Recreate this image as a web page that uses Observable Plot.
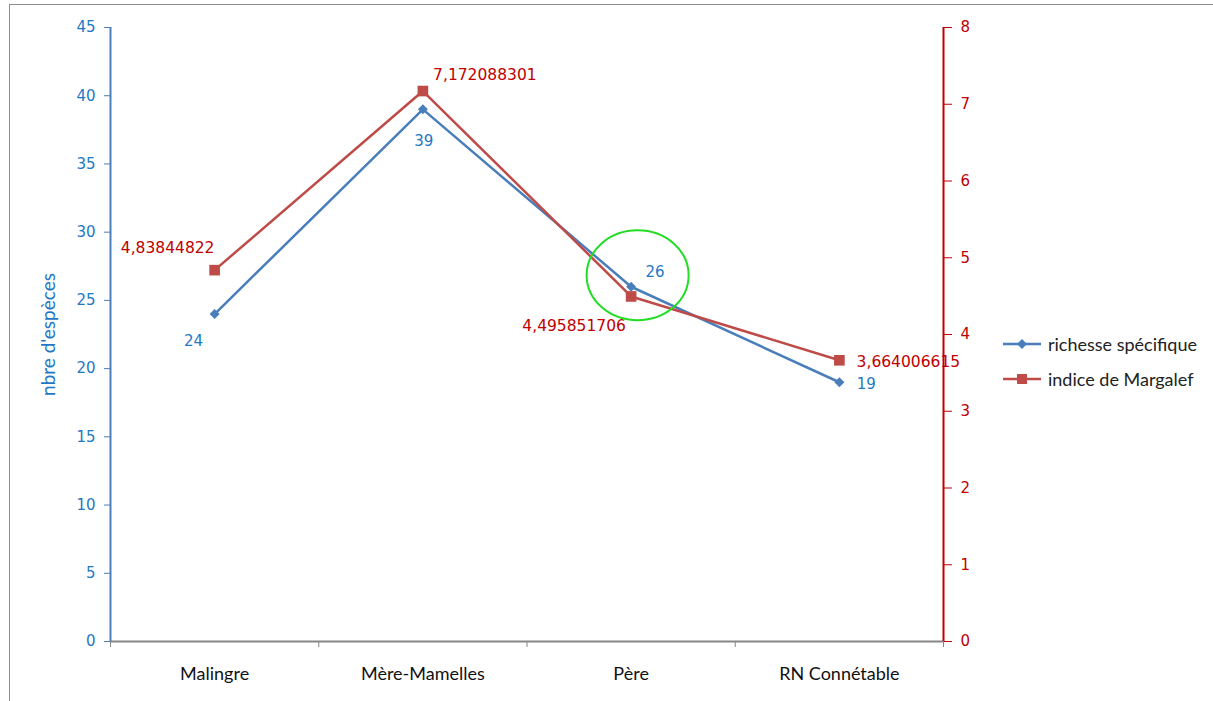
<!DOCTYPE html>
<html><head><meta charset="utf-8">
<script src="https://cdn.jsdelivr.net/npm/d3@7"></script>
<script src="https://cdn.jsdelivr.net/npm/@observablehq/plot@0.6"></script>
<style>
body{margin:0;background:#fff;}
#wrap{position:relative;width:1213px;height:701px;overflow:hidden;}
#frame{position:absolute;left:9px;top:4px;width:1260px;height:760px;border:1px solid #8c8c8c;box-sizing:border-box;pointer-events:none;}
#legend{position:absolute;left:1003px;top:326px;font-family:Lato,sans-serif;font-size:18px;color:#222;}
#legend .row{display:flex;align-items:center;height:35px;}
#legend svg{margin-right:6px;}
</style></head>
<body><div id="wrap"><div id="frame"></div><div id="chart"></div>
<div id="legend"></div></div>
<script>
const sites = ["Malingre", "Mère-Mamelles", "Père", "RN Connétable"];
const richesse = [24, 39, 26, 19];
const margalef = [4.83844822, 7.172088301, 4.495851706, 3.664006615];
const margalefLabels = ["4,83844822", "7,172088301", "4,495851706", "3,664006615"];
const leftTicks = [0, 5, 10, 15, 20, 25, 30, 35, 40, 45];
const rightTicks = [0, 1, 2, 3, 4, 5, 6, 7, 8];
const seriesNames = ["richesse spécifique", "indice de Margalef"];
const yTitle = "nbre d'espèces";

const BLUE = "#4A7EBB", RED = "#BE4B48", BLUE_T = "#1F78C4", RED_T = "#C00000";
const k = 45 / 8; // right axis → left axis
const rows = sites.map((s, i) => ({site: s, i, r: richesse[i], m: margalef[i], ms: margalef[i] * k, ml: margalefLabels[i]}));

const blueOff = [[-21, 27], [1, 32], [24, -15], [27, 2]];
const redOff = [[-47, -22], [62, -16], [-57, 30], [69, 2]];
const numFont = "DejaVu Sans, Verdana, sans-serif";

const ellipse = (index, scales) => {
  const p = rows[2];
  const cx = scales.x(p.i + 0.5) + 7, cy = scales.y(p.r) - 11;
  const e = d3.create("svg:ellipse").attr("cx", cx).attr("cy", cy).attr("rx", 51).attr("ry", 45)
    .attr("fill", "none").attr("stroke", "#22DD22").attr("stroke-width", 2);
  return e.node();
};

const chart = Plot.plot({
  width: 1213, height: 701,
  marginLeft: 110, marginRight: 270, marginTop: 27, marginBottom: 60,
  x: {domain: [0, 4]},
  y: {domain: [0, 45]},
  style: {fontFamily: numFont, background: "transparent", overflow: "visible"},
  marks: [
    Plot.axisY({ticks: leftTicks, tickSize: 6, tickPadding: 9, fontSize: 15, color: BLUE_T, stroke: BLUE, label: null}),
    Plot.axisY({anchor: "right", ticks: rightTicks.map(v => v * k), tickFormat: v => String(Math.round(v / k)), tickSize: 8, tickPadding: 9, fontSize: 15, color: RED_T, stroke: RED_T, label: null}),
    Plot.axisX({ticks: [0, 1, 2, 3, 4], tickSize: 6, tickFormat: () => "", stroke: "#868686", label: null}),
    Plot.axisX({ticks: sites.map((s, i) => i + 0.5), tickSize: 0, tickPadding: 26, tickFormat: v => sites[Math.round(v - 0.5)], fontSize: 18, fontFamily: "Lato, sans-serif", color: "#111", label: null}),
    Plot.ruleY([0], {stroke: "#868686", strokeWidth: 2}),
    Plot.ruleX([0], {stroke: BLUE, strokeWidth: 2}),
    Plot.ruleX([4], {stroke: RED_T, strokeWidth: 2}),
    Plot.text([yTitle], {frameAnchor: "left", textAnchor: "middle", rotate: -90, dx: -62, fill: BLUE_T, fontSize: 19, fontFamily: "Lato, sans-serif"}),
    Plot.line(rows, {x: d => d.i + 0.5, y: "r", stroke: BLUE, strokeWidth: 2.5}),
    Plot.line(rows, {x: d => d.i + 0.5, y: "ms", stroke: RED, strokeWidth: 2.5}),
    Plot.dot(rows, {x: d => d.i + 0.5, y: "r", symbol: "diamond2", r: 4.5, fill: BLUE, stroke: "none"}),
    Plot.dot(rows, {x: d => d.i + 0.5, y: "ms", symbol: "square", r: 6, fill: RED, stroke: "none"}),
    ...rows.map((d, i) => Plot.text([d], {x: d => d.i + 0.5, y: "r", text: d => String(d.r), dx: blueOff[i][0], dy: blueOff[i][1], fill: BLUE_T, fontSize: 15, fontFamily: numFont})),
    ...rows.map((d, i) => Plot.text([d], {x: d => d.i + 0.5, y: "ms", text: "ml", dx: redOff[i][0], dy: redOff[i][1], fill: RED_T, fontSize: 15.5, fontFamily: numFont})),
    ellipse
  ]
});
document.getElementById("chart").appendChild(chart);

const leg = document.getElementById("legend");
const colors = [BLUE, RED];
seriesNames.forEach((n, i) => {
  const row = document.createElement("div"); row.className = "row";
  const sym = i === 0
    ? `<path d="M19,1 L24,6 L19,11 L14,6 Z" fill="${colors[i]}"/>`
    : `<rect x="14" y="1" width="10" height="10" fill="${colors[i]}"/>`;
  row.innerHTML = `<svg width="39" height="12"><line x1="0" y1="6" x2="38" y2="6" stroke="${colors[i]}" stroke-width="2.5"/>${sym}</svg><span>${n}</span>`;
  leg.appendChild(row);
});
</script></body></html>
